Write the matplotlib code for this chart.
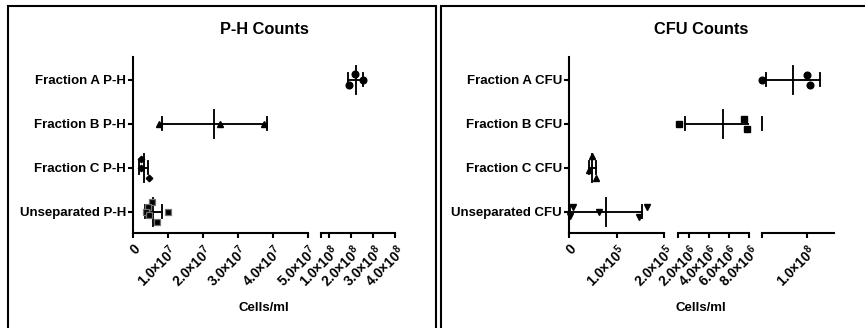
import numpy as np
import matplotlib
matplotlib.use('Agg')
import matplotlib.pyplot as plt
from matplotlib.patches import Rectangle

plt.rcParams['font.family'] = ['Liberation Sans', 'DejaVu Sans']
plt.rcParams['font.weight'] = 'bold'
plt.rcParams['mathtext.fontset'] = 'custom'
plt.rcParams['mathtext.rm'] = 'Liberation Sans:bold'
plt.rcParams['mathtext.it'] = 'Liberation Sans:bold'
plt.rcParams['mathtext.bf'] = 'Liberation Sans:bold'

# P-H counts, cells/ml
ph_labels = ['Unseparated P-H', 'Fraction C P-H', 'Fraction B P-H', 'Fraction A P-H']
ph_unsep = [0.54e7, 0.45e7, 0.38e7, 0.47e7, 0.69e7, 1.02e7]
ph_frac_c = [0.25e7, 0.23e7, 0.47e7]
ph_frac_b = [0.75e7, 2.49e7, 3.75e7]
ph_frac_a = [1.88e8, 2.17e8, 2.52e8]

# CFU counts, cells/ml
cfu_labels = ['Unseparated CFU', 'Fraction C CFU', 'Fraction B CFU', 'Fraction A CFU']
cfu_unsep = [0.02e5, 0.09e5, 0.62e5, 1.47e5, 1.64e5]
cfu_frac_c = [0.49e5, 0.41e5, 0.56e5]
cfu_frac_b = [1.0e6, 7.45e6, 7.8e6]
cfu_frac_a = [5.0e7, 1.0e8, 1.04e8]

# vertical scatter of the points (category units), as in the original
ph_jit = [[0.23, 0.11, 0, -0.07, -0.22, 0], [0.2, 0, -0.23], [0, 0, 0], [-0.11, 0.13, 0]]
cfu_jit = [[-0.1, 0.12, 0, -0.12, 0.12], [0.26, -0.04, -0.23], [0, 0.11, -0.12], [0, 0.11, -0.12]]

W, H = 865, 328
fig = plt.figure(figsize=(W / 100, H / 100), dpi=100)
LW = 1.35


def sci(v):
    if v == 0:
        return '0'
    e = int(np.floor(np.log10(v) + 1e-9))
    return r'$%.1f{\times}10^{%d}$' % (v / 10 ** e, e)


def draw_panel(title, labels, groups, jits, markers, segs, y_top=57, y_bot=232.5):
    # segs: (pixel left, pixel right, lo, hi, ticks, first tick unlabeled?)
    axes = []
    for i, (p0, p1, lo, hi, ticks, blank_first) in enumerate(segs):
        ax = fig.add_axes([p0 / W, 1 - y_bot / H, (p1 - p0) / W, (y_bot - y_top) / H])
        ax.set_xlim(lo, hi)
        ax.set_ylim(-0.47, 3.52)
        for s in ['top', 'right']:
            ax.spines[s].set_visible(False)
        ax.spines['bottom'].set_linewidth(1.5)
        ax.spines['left'].set_linewidth(1.5)
        ax.set_xticks(ticks)
        tl = [sci(t) for t in ticks]
        if blank_first:
            tl[0] = ''
        ax.set_xticklabels(tl, rotation=45, ha='right', va='top',
                           rotation_mode='anchor', fontsize=9.8)
        ax.tick_params(axis='x', direction='out', length=3.5, width=1.5, pad=3.2)
        if i == 0:
            ax.set_yticks(range(4))
            ax.set_yticklabels(labels, fontsize=9.5, fontweight='bold')
            ax.tick_params(axis='y', direction='out', length=3.5, width=1.5, pad=1.5)
        else:
            ax.spines['left'].set_visible(False)
            ax.tick_params(axis='y', left=False, labelleft=False)
        ax.patch.set_alpha(0)
        axes.append(ax)

    # which segment owns a value (gap values go to the segment on the left)
    starts = [s[2] for s in segs]

    def owner(v):
        k = 0
        for j in range(1, len(starts)):
            if v >= starts[j] * 0.999:
                k = j
        return axes[k]

    for k, (vals, jit, mk) in enumerate(zip(groups, jits, markers)):
        vals = np.array(vals)
        m = vals.mean()
        sd = vals.std(ddof=1)
        for ax in axes:
            ax.plot([m - sd, m + sd], [k, k], color='k', lw=LW)
        for c in [m - sd, m + sd]:
            owner(c).plot([c, c], [k - 0.15, k + 0.15], color='k', lw=LW, clip_on=False)
        owner(m).plot([m, m], [k - 0.32, k + 0.32], color='k', lw=LW, clip_on=False)
        for v, j in zip(vals, jit):
            owner(v).plot([v], [k + j], linestyle='none', clip_on=False, **mk)

    cx = (segs[0][0] + segs[-1][1]) / 2
    fig.text(cx / W, 1 - 29 / H, title, ha='center', va='center',
             fontsize=11.8, fontweight='bold')
    fig.text(cx / W, 1 - 308 / H, 'Cells/ml', ha='center', va='center',
             fontsize=9.5, fontweight='bold')


ms = 4.8
ph_markers = [dict(marker='s', ms=ms, mfc='k', mec='0.45', mew=0.9),
              dict(marker='D', ms=3.3, color='k'),
              dict(marker='^', ms=ms, color='k'),
              dict(marker='o', ms=ms, color='k')]
cfu_markers = [dict(marker='v', ms=ms, color='k'),
               dict(marker='^', ms=ms, color='k'),
               dict(marker='s', ms=ms, color='k'),
               dict(marker='o', ms=ms, color='k')]

draw_panel('P-H Counts', ph_labels,
           [ph_unsep, ph_frac_c, ph_frac_b, ph_frac_a], ph_jit, ph_markers,
           [(132.7, 307.7, 0, 5e7, [0, 1e7, 2e7, 3e7, 4e7, 5e7], False),
            (321, 395.3, 6.2e7, 4e8, [6.2e7, 1e8, 2e8, 3e8, 4e8], True)])

draw_panel('CFU Counts', cfu_labels,
           [cfu_unsep, cfu_frac_c, cfu_frac_b, cfu_frac_a], cfu_jit, cfu_markers,
           [(569, 664.3, 0, 2e5, [0, 1e5, 2e5], False),
            (677.7, 749.3, 0.91e6, 8e6, [0.91e6, 2e6, 4e6, 6e6, 8e6], True),
            (762, 833.7, 5e7, 1.3e8, [5e7, 1e8], True)])

# panel frames
for x0, x1 in [(8, 436), (441, 875)]:
    fig.add_artist(Rectangle((x0 / W, -0.05), (x1 - x0) / W, 1.05 - 6 / H,
                             transform=fig.transFigure, fill=False,
                             edgecolor='k', lw=1.5))

fig.savefig('out.png', dpi=100)
